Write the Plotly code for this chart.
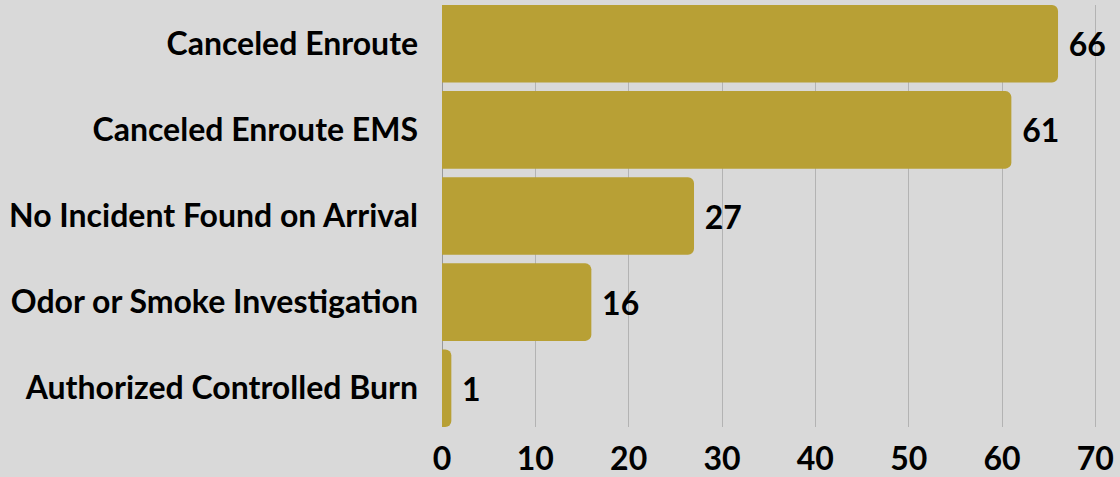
import plotly.graph_objects as go

categories = ["Canceled Enroute", "Canceled Enroute EMS", "No Incident Found on Arrival",
              "Odor or Smoke Investigation", "Authorized Controlled Burn"]
values = [66, 61, 27, 16, 1]
x_ticks = [0, 10, 20, 30, 40, 50, 60, 70]

FONT = "Lato"
fig = go.Figure(go.Bar(
    y=categories, x=values, orientation="h",
    marker=dict(color="#b8a035", line=dict(width=0)),
    text=["\u00a0" + str(v) for v in values], textposition="outside",
    textfont=dict(family=FONT, size=32, color="#000000", weight="bold"),
    cliponaxis=False,
))
fig.update_layout(
    width=1120, height=477,
    margin=dict(l=442, r=0, t=5, b=47),
    paper_bgcolor="#d9d9d9", plot_bgcolor="#d9d9d9",
    bargap=0.1, barcornerradius=6,
    showlegend=False,
    font=dict(family=FONT, color="#000000"),
)
fig.update_xaxes(range=[0, 72.64], tickvals=x_ticks, showgrid=True, gridcolor="#b3b3b3", gridwidth=1,
                 zeroline=True, zerolinecolor="#999999", zerolinewidth=1,
                 tickfont=dict(family=FONT, size=32, color="#000000", weight="bold"),
                 ticks="", ticklabelstandoff=10)
fig.update_yaxes(categoryorder="array", categoryarray=categories[::-1], range=[-0.45, 4.45],
                 tickfont=dict(family=FONT, size=32, color="#000000", weight="bold"),
                 ticks="", ticklabelstandoff=23, showgrid=False)
fig.write_html("out.html", config={"displayModeBar": False},
               post_script="document.body.style.margin='0';document.body.style.overflow='hidden';")
